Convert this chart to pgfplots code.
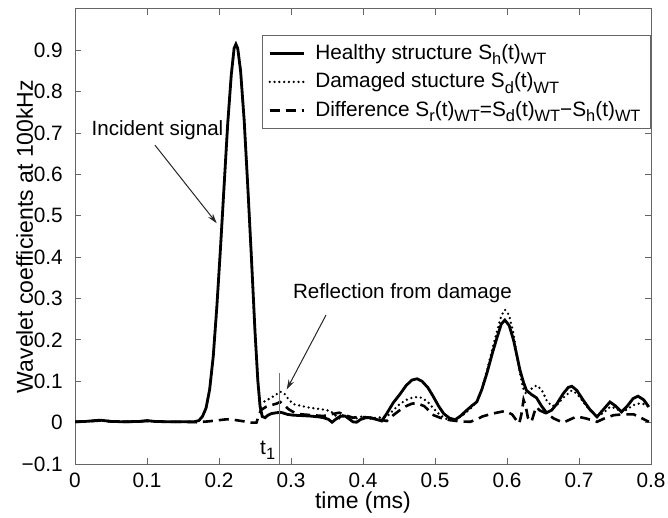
\documentclass[border=0pt]{standalone}
\usepackage{fontspec}
\setmainfont{Liberation Sans}
\usepackage{pgfplots}
\pgfplotsset{compat=1.18}
\usetikzlibrary{arrows.meta}
\newcommand{\sub}[1]{\raisebox{-2.6pt}{\fontsize{8.2}{8}\selectfont #1}}

\begin{document}
\begin{tikzpicture}
\begin{axis}[name=ax, scale only axis, width=288pt, height=227.5pt,
  xmin=0, xmax=0.8, ymin=-0.1, ymax=1,
  xtick={0,0.1,0.2,0.3,0.4,0.5,0.6,0.7,0.8},
  xticklabels={0,0.1,0.2,0.3,0.4,0.5,0.6,0.7,0.8},
  ytick={-0.1,0,0.1,0.2,0.3,0.4,0.5,0.6,0.7,0.8,0.9},
  yticklabels={−0.1,0,0.1,0.2,0.3,0.4,0.5,0.6,0.7,0.8,0.9},
  tick align=inside, major tick length=3pt,
  axis line style={black!60, line width=0.5pt},
  tick style={black!60, line width=0.5pt},
  tick label style={font=\fontsize{10.4}{12}\selectfont},
  yticklabel style={xshift=-2.6pt}, xticklabel style={yshift=-1.2pt},
  /pgf/number format/assume math mode=true,
  xlabel={time (ms)}, ylabel={Wavelet coefficients at 100kHz},
  label style={font=\fontsize{11.5}{13}\selectfont},
  xlabel style={at={(axis description cs:0.5,-0.098)}, anchor=base},
  ylabel style={at={(axis description cs:-0.073,0.5)}, anchor=base},
  legend style={at={(1,0.943)}, anchor=north east, draw=black!60, line width=0.5pt,
    font=\fontsize{10.4}{12}\selectfont, inner xsep=3pt, inner ysep=2.5pt, row sep=1.2pt,
    /tikz/every odd column/.append style={column sep=3pt}},
  legend cell align=left,
]
\addplot[black, line width=1.4pt] coordinates {
(0,0.002) (0.015,0.003) (0.035,0.006) (0.05,0.003) (0.07,0.002) (0.09,0.003) (0.1,0.005) (0.11,0.003)
(0.13,0.002) (0.15,0.002) (0.165,0.002) (0.172,0.005) (0.177,0.015) (0.182,0.035) (0.187,0.08)
(0.192,0.16) (0.197,0.28) (0.202,0.42) (0.207,0.57) (0.212,0.72) (0.217,0.84) (0.221,0.905)
(0.2235,0.915) (0.226,0.905) (0.23,0.85) (0.235,0.73) (0.24,0.57) (0.245,0.40) (0.25,0.22)
(0.254,0.10) (0.257,0.04) (0.26,0.015) (0.264,0.012) (0.268,0.018) (0.273,0.022) (0.28,0.024)
(0.286,0.025) (0.295,0.02) (0.303,0.018) (0.315,0.017) (0.326,0.016) (0.338,0.014) (0.345,0.012)
(0.352,0.008) (0.357,0.001) (0.362,0.008) (0.368,0.015) (0.375,0.016) (0.38,0.01) (0.386,0.002)
(0.391,0.001) (0.397,0.008) (0.404,0.012) (0.41,0.012) (0.418,0.008) (0.426,0.004) (0.433,0.022)
(0.442,0.048) (0.451,0.068) (0.46,0.09) (0.468,0.103) (0.475,0.106) (0.482,0.1) (0.49,0.085)
(0.497,0.065) (0.505,0.04) (0.512,0.022) (0.52,0.011) (0.528,0.007) (0.536,0.017) (0.544,0.03)
(0.552,0.042) (0.558,0.05) (0.565,0.08) (0.572,0.119) (0.58,0.17) (0.586,0.205) (0.592,0.238)
(0.597,0.248) (0.603,0.235) (0.609,0.2) (0.614,0.16) (0.618,0.127) (0.623,0.097) (0.627,0.078)
(0.634,0.068) (0.641,0.06) (0.648,0.04) (0.655,0.024) (0.662,0.03) (0.669,0.045) (0.678,0.07)
(0.685,0.085) (0.69,0.088) (0.697,0.078) (0.706,0.054) (0.715,0.032) (0.725,0.014) (0.733,0.03)
(0.743,0.05) (0.751,0.04) (0.759,0.026) (0.767,0.04) (0.775,0.058) (0.782,0.064) (0.79,0.055)
(0.797,0.038)
};
\addlegendentry{Healthy structure S\sub{h}(t)\sub{WT}}
\addplot[black, line width=1.3pt, line cap=round, dash pattern=on 0pt off 2.4pt] coordinates {
(0,0.002) (0.015,0.003) (0.035,0.006) (0.05,0.003) (0.07,0.002) (0.09,0.003) (0.1,0.005) (0.11,0.003)
(0.13,0.002) (0.15,0.002) (0.165,0.002) (0.172,0.005) (0.177,0.015) (0.182,0.035) (0.187,0.08)
(0.192,0.16) (0.197,0.28) (0.202,0.42) (0.207,0.57) (0.212,0.72) (0.217,0.84) (0.221,0.905)
(0.2235,0.915) (0.226,0.905) (0.23,0.85) (0.235,0.73) (0.24,0.57) (0.245,0.40) (0.25,0.22)
(0.254,0.10) (0.257,0.048) (0.262,0.05) (0.27,0.058) (0.278,0.066) (0.285,0.075) (0.29,0.072)
(0.296,0.058) (0.303,0.045) (0.315,0.04) (0.326,0.036) (0.34,0.033) (0.35,0.03) (0.358,0.024)
(0.363,0.015) (0.367,0.01) (0.372,0.018) (0.38,0.015) (0.39,0.01) (0.4,0.016) (0.41,0.01)
(0.42,0.012) (0.433,0.014) (0.442,0.03) (0.451,0.045) (0.46,0.055) (0.468,0.06) (0.475,0.062)
(0.482,0.06) (0.49,0.05) (0.498,0.034) (0.506,0.02) (0.514,0.01) (0.521,0.006) (0.53,0.008)
(0.54,0.02) (0.55,0.035) (0.558,0.05) (0.565,0.08) (0.572,0.125) (0.58,0.18) (0.586,0.22)
(0.592,0.258) (0.597,0.273) (0.603,0.26) (0.609,0.215) (0.614,0.16) (0.618,0.12) (0.622,0.085)
(0.627,0.068) (0.634,0.082) (0.641,0.09) (0.648,0.08) (0.655,0.054) (0.662,0.04) (0.669,0.042)
(0.678,0.06) (0.69,0.078) (0.697,0.07) (0.706,0.05) (0.715,0.03) (0.725,0.014) (0.735,0.025)
(0.743,0.038) (0.751,0.035) (0.759,0.025) (0.767,0.032) (0.775,0.042) (0.782,0.046) (0.79,0.045)
(0.797,0.038)
};
\addlegendentry{Damaged stucture S\sub{d}(t)\sub{WT}}
\addplot[black, line width=1.3pt, dash pattern=on 5pt off 3pt] coordinates {
(0,0.002) (0.015,0.003) (0.035,0.005) (0.05,0.003) (0.07,0.002) (0.09,0.003) (0.1,0.004) (0.11,0.003)
(0.13,0.002) (0.15,0.002) (0.17,0.001) (0.185,0.003) (0.2,0.006) (0.21,0.008)
(0.22,0.007) (0.235,0.003) (0.245,0.0) (0.252,0.0) (0.258,0.03) (0.265,0.038) (0.272,0.042)
(0.28,0.046) (0.285,0.05) (0.29,0.043) (0.297,0.032) (0.305,0.024) (0.315,0.02) (0.33,0.018)
(0.345,0.016) (0.355,0.02) (0.367,0.024) (0.375,0.018) (0.386,0.012) (0.395,0.014) (0.41,0.012)
(0.42,0.008) (0.433,0.004) (0.442,0.018) (0.451,0.03) (0.46,0.04) (0.468,0.046) (0.475,0.047)
(0.485,0.04) (0.498,0.018) (0.51,0.01) (0.521,0.006) (0.535,0.003) (0.549,0.002) (0.558,0.008)
(0.566,0.015) (0.58,0.022) (0.597,0.028) (0.607,0.02) (0.613,0.006) (0.617,-0.002) (0.62,0.02)
(0.623,0.055) (0.626,0.04) (0.629,0.012) (0.634,0.002) (0.638,0.025) (0.641,0.038) (0.645,0.03)
(0.655,0.022) (0.665,0.01) (0.678,0.0) (0.688,0.008) (0.697,0.015) (0.71,0.01) (0.725,0.002)
(0.735,0.01) (0.748,0.018) (0.76,0.02) (0.776,0.02) (0.788,0.01) (0.797,0.002)
};
\addlegendentry{Difference S\sub{r}(t)\sub{WT}=S\sub{d}(t)\sub{WT}−S\sub{h}(t)\sub{WT}}
\addplot[black!55, line width=0.6pt, forget plot] coordinates {(0.2838,-0.1) (0.2838,0.119)};
\node[anchor=base east, inner sep=0pt, font=\fontsize{10.4}{12}\selectfont] at (axis cs:0.2785,-0.0760) {t\sub{1}};
\node[anchor=base, font=\fontsize{10.3}{12}\selectfont] at (axis cs:0.1146,0.695) {Incident signal};
\draw[-{Stealth[length=5pt,width=3pt]}, black!85, line width=0.5pt] (axis cs:0.111,0.671) -- (axis cs:0.1968,0.482);
\node[anchor=base, font=\fontsize{10.3}{12}\selectfont] at (axis cs:0.4548,0.300) {Reflection from damage};
\draw[-{Stealth[length=5pt,width=3pt]}, black!85, line width=0.5pt] (axis cs:0.3486,0.260) -- (axis cs:0.294,0.080);
\end{axis}
\pgfresetboundingbox
\path ([xshift=-37.5pt, yshift=-26.5pt]ax.south west) rectangle ([xshift=8.5pt, yshift=4.5pt]ax.north east);
\end{tikzpicture}
\end{document}
